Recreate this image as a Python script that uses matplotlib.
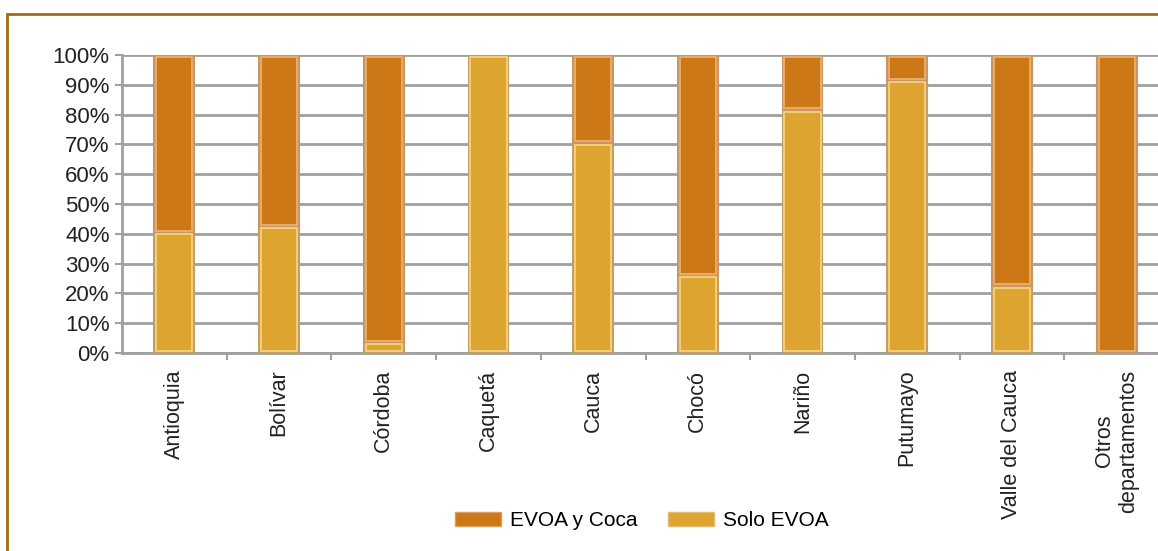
import matplotlib.pyplot as plt
import numpy as np
from matplotlib.patches import Rectangle, Patch

# Share of EVOA by department (percent)
departamentos = ['Antioquia', 'Bolívar', 'Córdoba', 'Caquetá', 'Cauca', 'Chocó',
                 'Nariño', 'Putumayo', 'Valle del Cauca', 'Otros\ndepartamentos']
solo_evoa = [40.5, 42.5, 3.5, 100.0, 70.5, 26.0, 81.5, 91.5, 22.5, 0.0]
evoa_coca = [59.5, 57.5, 96.5, 0.0, 29.5, 74.0, 18.5, 8.5, 77.5, 100.0]

plt.rcParams['font.family'] = 'Liberation Sans'

fig = plt.figure(figsize=(11.58, 5.51), dpi=100)

# Brown outer frame
fig.patches.append(Rectangle((7 / 1158, -0.1), 1.2, 1 - 14 / 551 + 0.1,
                             transform=fig.transFigure, fill=False,
                             edgecolor='#A06E0C', linewidth=2))

ax = fig.add_axes([122 / 1158, 1 - 353 / 551, 1047 / 1158, 298 / 551])

x = np.arange(len(departamentos))
w = 0.38
solo_c, coca_c = '#DDA42F', '#CC7817'
ax.bar(x, solo_evoa, w, color=solo_c, edgecolor='#C4A060', linewidth=1.5,
       label='Solo EVOA', zorder=3)
ax.bar(x, evoa_coca, w, bottom=solo_evoa, color=coca_c, edgecolor='#C89660',
       linewidth=1.5, label='EVOA y Coca', zorder=3)

# light inner bevel on each segment
bottoms = [0] * len(x) + list(solo_evoa)
heights = list(solo_evoa) + list(evoa_coca)
hl = ['#F6D58A'] * len(x) + ['#EDB478'] * len(x)
for i, (b, h) in enumerate(zip(bottoms, heights)):
    if h > 1.5:
        ax.bar(x[i % len(x)], h - 1.2, w - 0.035, bottom=b + 0.6, fill=False,
               edgecolor=hl[i], linewidth=1.2, zorder=4)

ax.set_xlim(-0.5, len(departamentos) - 0.5)
ax.set_ylim(0, 100)
ax.set_yticks(np.arange(0, 101, 10))
ax.set_yticklabels([f'{v}%' for v in range(0, 101, 10)], fontsize=16, color='#222222')
ax.yaxis.grid(True, color='#A0A0A0', linewidth=2, zorder=0)

ax.set_xticks(x)
ax.set_xticklabels(departamentos, rotation=90, fontsize=15.5, color='#222222',
                   va='top', ha='center', multialignment='center')
ax.set_xticks(np.arange(0.5, len(departamentos) - 0.5), minor=True)
ax.tick_params(axis='x', which='major', length=0, pad=12)
ax.tick_params(axis='x', which='minor', length=5, color='#A0A0A0', width=1.5)
ax.tick_params(axis='y', length=5, color='#A0A0A0', width=1.5, pad=4)

for s in ['top', 'right']:
    ax.spines[s].set_visible(False)
for s in ['left', 'bottom']:
    ax.spines[s].set_color('#A0A0A0')
    ax.spines[s].set_linewidth(2)

handles = [Patch(facecolor=coca_c, edgecolor='#D8A060', label='EVOA y Coca'),
           Patch(facecolor=solo_c, edgecolor='#E0BC70', label='Solo EVOA')]
fig.legend(handles=handles, loc='center', bbox_to_anchor=(642 / 1158, 1 - 521 / 551),
           ncol=2, frameon=False, fontsize=15, handlelength=2.2, handleheight=0.65,
           columnspacing=1.45, handletextpad=0.45)

plt.savefig('out.png', dpi=100)
